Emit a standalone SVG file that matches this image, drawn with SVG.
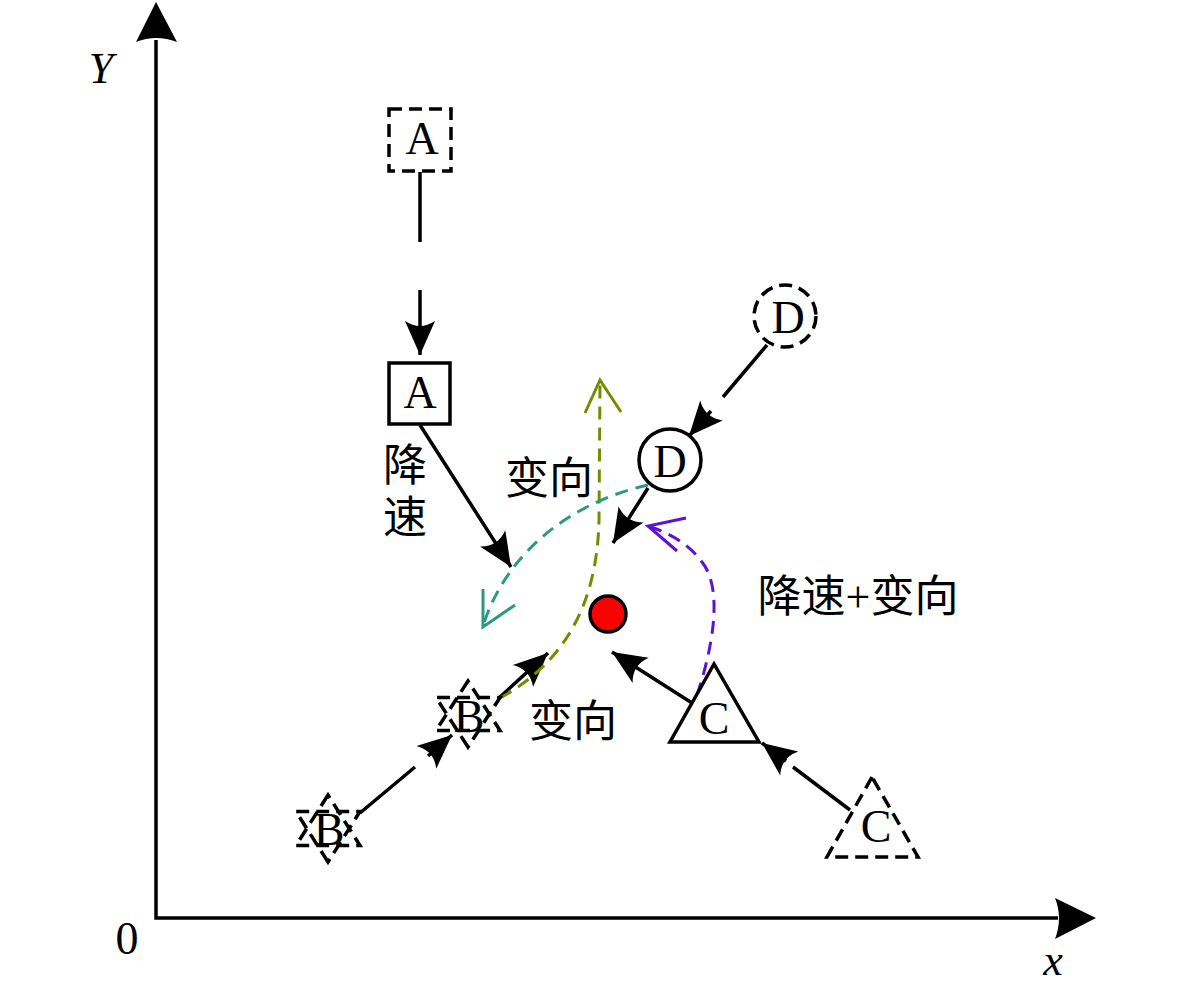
<svg xmlns="http://www.w3.org/2000/svg" width="1181" height="992" viewBox="0 0 1181 992">
<style>
.ln{stroke:#000;stroke-width:3.5;fill:none}
.sh{stroke:#000;stroke-width:3.5;fill:#fff}
.dsh{stroke:#000;stroke-width:3.5;fill:none;stroke-dasharray:13 7}
.lt{font-family:"Liberation Serif","Times New Roman",serif;font-size:46px;fill:#000;text-anchor:middle}
.it{font-family:"Liberation Serif","Times New Roman",serif;font-size:44px;font-style:italic;fill:#000;text-anchor:middle}
.cj{font-family:"Liberation Serif","Noto Sans CJK SC",serif;font-size:44px;fill:#000;text-anchor:middle;dominant-baseline:central}
.g{stroke:#728d00;stroke-width:3;fill:none;stroke-dasharray:13 8}
.t{stroke:#2a9a80;stroke-width:3;fill:none;stroke-dasharray:13 8}
.p{stroke:#5b14d6;stroke-width:3;fill:none;stroke-dasharray:13 8}
</style>
<defs>
<marker id="ah" markerUnits="userSpaceOnUse" viewBox="-36 -17 38 34" markerWidth="38" markerHeight="34" refX="0" refY="0" orient="auto">
<path d="M0,0 L-34,-15 Q-24,0 -34,15 Z" fill="#000"/>
</marker>
</defs>

<g id="axes">
<path class="ln" d="M156,40 L156,918 L1058,918"/>
<path d="M156,2 L177,42 Q156,34 136,42 Z" fill="#000"/>
<path d="M1096,918 L1055,898 Q1063,918 1055,939 Z" fill="#000"/>
<text class="it" x="101" y="83">Y</text>
<text class="it" x="1053" y="975">x</text>
<text class="lt" x="127" y="954">0</text>
</g>

<g id="connectors">
<line class="ln" x1="420" y1="172" x2="420" y2="242"/>
<line class="ln" x1="420" y1="290" x2="420" y2="355" marker-end="url(#ah)"/>
<line class="ln" x1="420" y1="425" x2="511" y2="567" marker-end="url(#ah)"/>
<line class="ln" x1="767" y1="345" x2="723" y2="397"/>
<line class="ln" x1="711" y1="411" x2="689" y2="436" marker-end="url(#ah)"/>
<line class="ln" x1="648" y1="488" x2="613" y2="543" marker-end="url(#ah)"/>
<line class="ln" x1="360" y1="813" x2="415" y2="767"/>
<line class="ln" x1="428" y1="756" x2="452" y2="735" marker-end="url(#ah)"/>
<line class="ln" x1="500" y1="697" x2="548" y2="653" marker-end="url(#ah)"/>
<line class="ln" x1="692" y1="703" x2="612" y2="652" marker-end="url(#ah)"/>
<line class="ln" x1="850" y1="810" x2="793" y2="767"/>
<line class="ln" x1="786" y1="761" x2="762" y2="743" marker-end="url(#ah)"/>
<path class="g" d="M500,698 C560,665 597,610 599,520 L600,384"/>
<polyline points="585,413 600,380 621,412" fill="none" stroke="#728d00" stroke-width="3"/>
<path class="t" d="M648,485 C580,500 510,545 484,623"/>
<polyline points="483,589 483,627 515,605" fill="none" stroke="#2a9a80" stroke-width="3"/>
<path class="p" d="M697,695 C712,650 724,590 702,562 C687,542 668,533 651,527"/>
<polyline points="686,518 648,526 677,551" fill="none" stroke="#5b14d6" stroke-width="3"/>
</g>

<g id="A0">
<rect class="dsh" x="389" y="109" width="62" height="62"/>
<text class="lt" x="422" y="154">A</text>
</g>
<g id="A1">
<rect class="sh" x="389" y="363" width="61" height="61"/>
<text class="lt" x="420" y="408">A</text>
</g>
<g id="D0">
<circle class="dsh" cx="785" cy="316" r="31" stroke-dasharray="11 7"/>
<text class="lt" x="788" y="333">D</text>
</g>
<g id="D1">
<circle class="sh" cx="670" cy="460" r="31"/>
<text class="lt" x="670" y="477">D</text>
</g>
<g id="target">
<circle cx="608" cy="614" r="18" fill="#ff0000" stroke="#000" stroke-width="3.5"/>
</g>
<g id="C1">
<polygon class="sh" points="714,664 670,742 759,742"/>
<text class="lt" x="714" y="734">C</text>
</g>
<g id="C0">
<polygon class="dsh" points="872,777 827,857 918,857"/>
<text class="lt" x="876" y="842">C</text>
</g>
<g id="B0">
<polygon class="dsh" points="328,795 296,845.5 360,845.5" stroke-dasharray="10 8"/>
<polygon class="dsh" points="328,862 296,811.5 360,811.5" stroke-dasharray="10 8"/>
<text class="lt" x="329" y="845">B</text>
</g>
<g id="B1">
<polygon class="dsh" points="468,681 436,730.5 500,730.5" stroke-dasharray="10 8"/>
<polygon class="dsh" points="468,747 436,697.5 500,697.5" stroke-dasharray="10 8"/>
<text class="lt" x="469" y="732">B</text>
</g>

<g id="labels">
<text class="cj" x="405" y="466">降</text>
<text class="cj" x="405" y="518">速</text>
<text class="cj" x="549" y="479">变向</text>
<text class="cj" x="573" y="722">变向</text>
<text class="cj" x="858" y="597">降速+变向</text>
</g>
</svg>
